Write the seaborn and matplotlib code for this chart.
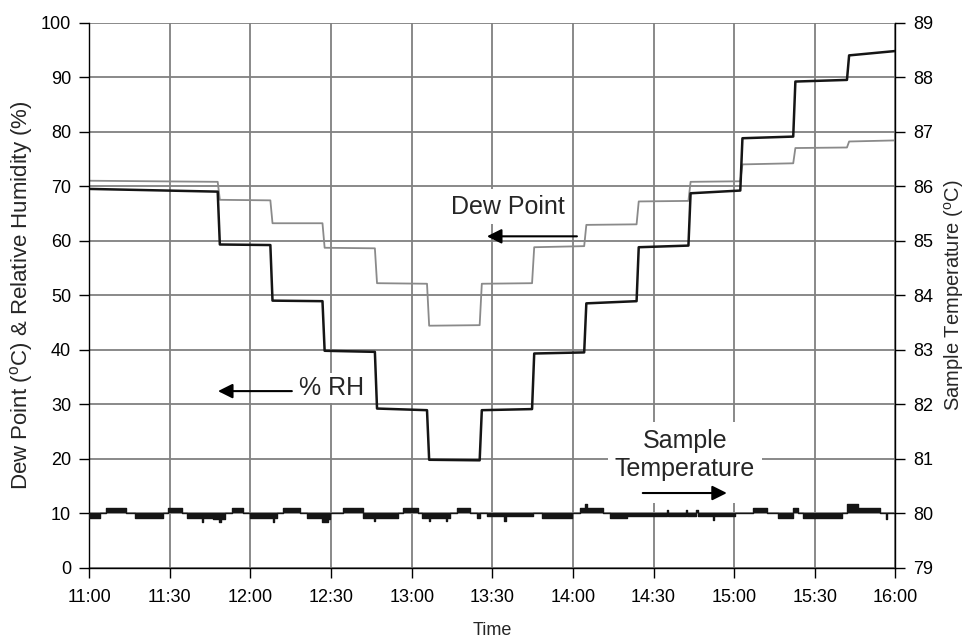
import numpy as np
import pandas as pd
import matplotlib
matplotlib.use("Agg")
import matplotlib.pyplot as plt
import seaborn as sns

# ---------------- data (minutes after 11:00) ----------------
step_times = [0, 47.8, 67.4, 86.8, 106.3, 125.7, 145.3, 164.8, 184.2,
              203.7, 223.0, 242.3, 262.0, 282.0, 300]
rh_start = [69.5, 59.3, 49.0, 39.8, 29.2, 19.8, 28.9, 39.3, 48.5, 58.8, 68.7, 78.8, 89.2, 94.0]
rh_end   = [69.0, 59.2, 48.9, 39.6, 28.9, 19.7, 29.1, 39.5, 48.9, 59.1, 69.2, 79.1, 89.5, 94.8]
dew_start = [71.0, 67.5, 63.2, 58.7, 52.2, 44.4, 52.1, 58.8, 62.9, 67.2, 70.8, 74.0, 77.0, 78.2]
dew_end   = [70.8, 67.4, 63.2, 58.6, 52.1, 44.5, 52.2, 59.0, 63.0, 67.3, 70.9, 74.2, 77.1, 78.4]

temp_times = [0, 4.0, 6.2, 13.7, 17.0, 27.4, 29.3, 34.5, 36.4, 42.0, 42.5, 46.0, 48.4, 48.9,
              50.5, 53.0, 57.2, 59.8, 68.2, 68.7, 69.8, 72.0, 78.4, 81.0, 86.5, 89.0, 89.6,
              94.4, 101.9, 106.0, 106.5, 114.9, 116.8, 122.3, 123.8, 126.5, 127.0, 132.8,
              133.3, 134.3, 136.8, 141.7, 144.3, 145.4, 148.0, 154.5, 155.0, 165.1, 168.5,
              179.7, 182.6, 184.6, 185.1, 191.2, 193.8, 200.1, 209.8, 215.0, 215.4, 222.0,
              222.4, 226.0, 226.4, 232.0, 232.4, 240.3, 247.0, 252.2, 256.3, 261.9, 263.8,
              265.6, 280.2, 282.0, 286.1, 294.3, 296.5, 297.0, 300]
temp_vals = [79.91, 80.0, 80.09, 80.0, 79.91, 80.0, 80.09, 80.0, 79.92, 79.83, 79.92, 79.90,
             79.83, 79.90, 80.0, 80.09, 80.0, 79.91, 79.84, 79.91, 80.0, 80.09, 80.0, 79.91,
             79.83, 79.90, 80.0, 80.09, 79.92, 79.85, 79.92, 80.0, 80.09, 80.0, 79.92, 79.85,
             79.92, 79.85, 79.92, 80.0, 80.09, 80.0, 79.92, 80.0, 79.94, 79.86, 79.94, 80.0,
             79.91, 80.0, 80.09, 80.17, 80.09, 80.0, 79.92, 79.94, 79.95, 80.05, 79.95, 80.05,
             79.95, 80.05, 79.95, 79.88, 79.95, 80.0, 80.09, 80.0, 79.91, 80.09, 80.0, 79.91,
             80.0, 80.16, 80.09, 80.0, 79.90, 80.0, 80.0]

time_ticks = [0, 30, 60, 90, 120, 150, 180, 210, 240, 270, 300]
time_labels = ["11:00", "11:30", "12:00", "12:30", "13:00", "13:30",
               "14:00", "14:30", "15:00", "15:30", "16:00"]


def step_series(times, starts, ends, ramp=0.8):
    xs, ys = [], []
    for i in range(len(starts)):
        t0 = times[i] + (ramp if i > 0 else 0.0)
        xs += [t0, times[i + 1]]
        ys += [starts[i], ends[i]]
    return xs, ys


def hold_series(times, vals):
    xs, ys = [], []
    for i in range(len(vals) - 1):
        xs += [times[i], times[i + 1]]
        ys += [vals[i], vals[i]]
    return xs, ys


# ---------------- style ----------------
sns.set_style("ticks")
plt.rcParams['font.family'] = ['Liberation Sans', 'DejaVu Sans']
plt.rcParams['mathtext.fontset'] = 'custom'
plt.rcParams['mathtext.rm'] = 'Liberation Sans'
plt.rcParams['mathtext.it'] = 'Liberation Sans:italic'

fig = plt.figure(figsize=(9.65, 6.39), dpi=100)
ax = fig.add_axes([0.0925, 0.1116, 0.8353, 0.8529])
ax2 = ax.twinx()

dx, dy = step_series(step_times, dew_start, dew_end)
rx, ry = step_series(step_times, rh_start, rh_end)
df_dew = pd.DataFrame({"t": dx, "v": dy})
df_rh = pd.DataFrame({"t": rx, "v": ry})
sns.lineplot(data=df_dew, x="t", y="v", ax=ax, color="#8a8a8a", lw=1.3,
             estimator=None, sort=False)
sns.lineplot(data=df_rh, x="t", y="v", ax=ax, color="#151515", lw=1.8,
             estimator=None, sort=False)

tx, ty = hold_series(temp_times, temp_vals)
df_t = pd.DataFrame({"t": tx, "v": ty})
ax2.fill_between(df_t["t"], 80.0, df_t["v"], color="#151515", lw=0)
sns.lineplot(data=df_t, x="t", y="v", ax=ax2, color="#151515", lw=1.0,
             estimator=None, sort=False)

# ---------------- axes ----------------
ax.set_xlim(0, 300)
ax.set_ylim(0, 100)
ax2.set_ylim(79, 89)
ax.set_xticks(time_ticks)
ax.set_xticklabels(time_labels)
ax.set_yticks(range(0, 101, 10))
ax2.set_yticks(range(79, 90))

ax.grid(True, color="#808080", lw=1.3)
ax.set_axisbelow(True)
ax.spines["top"].set_visible(False)
ax2.spines["top"].set_visible(False)
ax.spines["right"].set_visible(False)
for s in ["left", "bottom"]:
    ax.spines[s].set_color("black")
    ax.spines[s].set_linewidth(1.0)
ax2.spines["right"].set_color("black")
ax2.spines["right"].set_linewidth(1.0)
ax2.spines["left"].set_visible(False)
ax2.spines["bottom"].set_visible(False)

ax.tick_params(axis="y", direction="out", length=7, width=1, labelsize=13, pad=6, colors="black")
ax.tick_params(axis="x", direction="out", length=7, width=1, labelsize=13, pad=8, colors="black")
ax2.tick_params(axis="y", direction="out", length=7, width=1, labelsize=13, pad=6, colors="black")

ax.set_xlabel("Time", fontsize=13, labelpad=12)
ax.set_ylabel(r"Dew Point ($^{\mathrm{o}}$C) & Relative Humidity (%)", fontsize=16, labelpad=4)
ax2.set_ylabel(r"Sample Temperature ($^{\mathrm{o}}$C)", fontsize=14.5, labelpad=6)

# ---------------- annotations ----------------
arrow = dict(arrowstyle="-|>", color="black", lw=1.5, mutation_scale=22,
             shrinkA=0, shrinkB=0)

ax.text(155.8, 66.2, "Dew Point", fontsize=18, ha="center", va="center",
        bbox=dict(facecolor="white", edgecolor="none", pad=4), zorder=3)
ax.annotate("", xy=(148, 60.8), xytext=(181.5, 60.8), arrowprops=arrow, zorder=4)

ax.text(90, 33.0, "% RH", fontsize=18, ha="center", va="center",
        bbox=dict(facecolor="white", edgecolor="none", pad=2), zorder=3)
ax.annotate("", xy=(47.9, 32.4), xytext=(75.4, 32.4), arrowprops=arrow, zorder=4)

ax.text(221.6, 14.3, "\u2003" * 6, fontsize=18, ha="center", va="center",
        bbox=dict(facecolor="white", edgecolor="none", pad=1), zorder=2.5)
ax.text(221.6, 20.7, "Sample\nTemperature", fontsize=18, ha="center", va="center",
        linespacing=1.2, bbox=dict(facecolor="white", edgecolor="none", pad=5), zorder=3)
ax.annotate("", xy=(237.3, 13.7), xytext=(206, 13.7), arrowprops=arrow, zorder=4)

fig.savefig("out.png", dpi=100)
